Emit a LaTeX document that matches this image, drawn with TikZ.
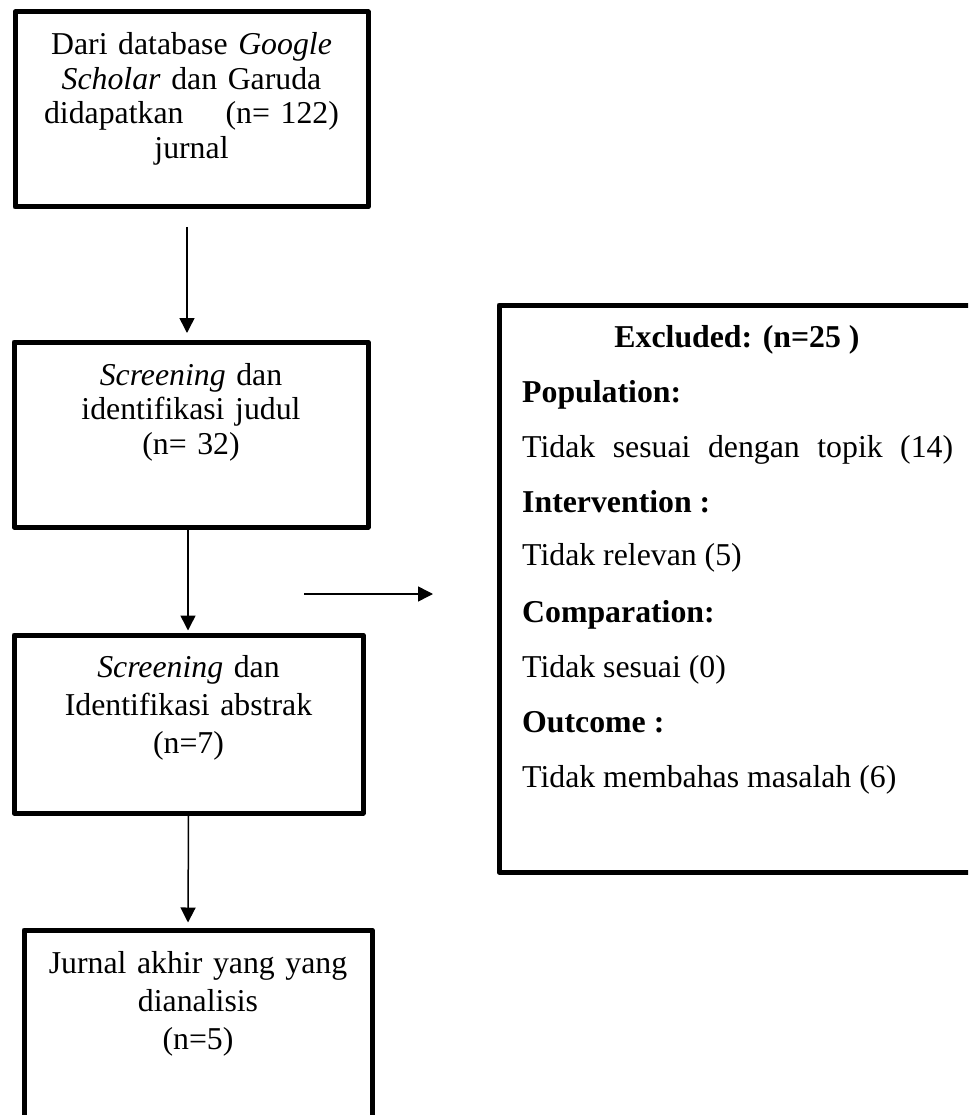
\documentclass[tikz,border=0pt]{standalone}
\usepackage{fontspec}
\setmainfont{Liberation Serif}
\usetikzlibrary{arrows.meta}

\begin{document}
\begin{tikzpicture}[x=1pt,y=-1pt,
  box/.style={draw, line width=5pt, line join=round, inner sep=0pt},
  txt/.style={font=\fontsize{31.8}{34.5}\selectfont, align=center, anchor=base, inner sep=0pt},
  txtb/.style={font=\fontsize{31.8}{38.2}\selectfont, align=center, anchor=base, inner sep=0pt},
  item/.style={font=\fontsize{31.8}{38}\selectfont, anchor=base west, inner sep=0pt},
  arr/.style={line width=1.5pt, -{Triangle[length=15pt,width=15pt]}}]
\useasboundingbox (0,0) rectangle (968,1115);
\clip (0,0) rectangle (968,1115);
% left column
\node[box, minimum width=353pt, minimum height=195pt] (b1) at (191.5,109.5) {};
\node[box, minimum width=354pt, minimum height=185pt] (b2) at (191,434.5) {};
\node[box, minimum width=349pt, minimum height=178pt] (b3) at (188.5,724) {};
\node[box, minimum width=348pt, minimum height=260pt] (b4) at (198,1060) {};
\node[txt, text width=345pt] (t1) at (191.5,55) {Dari database \textit{Google}\\ \textit{Scholar} dan Garuda\\ didapatkan\hspace{42pt}(n= 122)\\ jurnal};
\node[txt, text width=345pt] (t2) at (191,385) {\textit{Screening} dan\\ identifikasi judul\\ (n= 32)};
\node[txtb, text width=340pt] (t3) at (188.5,677) {\textit{Screening} dan\\ Identifikasi abstrak\\ (n=7)};
\node[txtb, text width=340pt] (t4) at (198,973) {Jurnal akhir yang yang\\ dianalisis\\ (n=5)};
% excluded
\node[box, minimum width=561pt, minimum height=567pt] (ex) at (779.5,588.5) {};
\node[item, anchor=base] (exhead) at (737,347) {\textbf{Excluded: (n=25 )}};
\node[item] (pop) at (522,402) {\textbf{Population:}};
\node[item] (popx) at (522,457) {\makebox[431pt][s]{Tidak sesuai dengan topik (14)}};
\node[item] (int) at (522,512) {\textbf{Intervention :}};
\node[item] (intx) at (522,565) {Tidak relevan (5)};
\node[item] (com) at (522,622) {\textbf{Comparation:}};
\node[item] (comx) at (522,677) {Tidak sesuai (0)};
\node[item] (out) at (522,732) {\textbf{Outcome :}};
\node[item] (outx) at (522,787) {Tidak membahas masalah (6)};
% arrows
\coordinate (hs) at (304,594);
\coordinate (he) at (433,594);
\draw[arr] ([xshift=-4.5pt,yshift=-17.5pt]b1.south) -- ([xshift=-4pt,yshift=6.5pt]b2.north);
\draw[arr] ([xshift=-3pt]b2.south) -- ([xshift=-0.5pt,yshift=2pt]b3.north);
\draw[arr] (b3.south) -- ([xshift=-10pt,yshift=5pt]b4.north);
\draw[arr] (hs) -- (he);
\end{tikzpicture}
\end{document}
